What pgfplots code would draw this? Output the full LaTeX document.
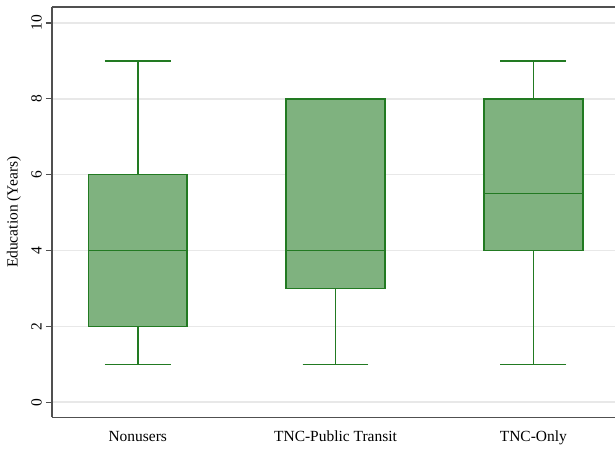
\documentclass[border=0pt]{standalone}
\usepackage{pgfplots}
\pgfplotsset{compat=1.18}
\usepgfplotslibrary{statistics}
\usepackage{fontspec}
\setmainfont{Liberation Serif}
\definecolor{boxfill}{RGB}{127,178,127}
\definecolor{boxline}{RGB}{34,122,34}
\definecolor{axgray}{RGB}{80,80,80}
\definecolor{gridgray}{RGB}{232,232,232}
\begin{document}
\begin{tikzpicture}
\begin{axis}[
  scale only axis,
  width=564pt, height=411pt,
  xmin=0.566, xmax=3.414,
  ymin=-0.4, ymax=10.42,
  axis x line*=box,
  axis y line*=left,
  axis line style={axgray, line width=1.6pt},
  xtick={1,2,3},
  xticklabels={Nonusers,TNC-Public Transit,TNC-Only},
  x tick style={draw=none},
  ytick={0,2,4,6,8,10},
  y tick style={axgray, line width=1.2pt},
  tick align=outside,
  major tick length=6pt,
  ymajorgrids,
  grid style={gridgray, line width=1.6pt},
  /pgf/number format/assume math mode=true,
  tick label style={font=\fontsize{15.5}{18}\selectfont},
  yticklabel style={rotate=90, anchor=south, inner sep=4pt},
  xticklabel style={yshift=-4pt},
  ylabel={Education (Years)},
  every axis y label/.style={at={(axis description cs:-0.0674,0.5)}, rotate=90, anchor=center, font=\fontsize{15.5}{18}\selectfont},
  boxplot/draw direction=y,
  boxplot/box extend=0.5,
  boxplot/whisker extend=0.333,
  boxplot/every box/.style={draw=boxline, fill=boxfill, line width=1.5pt},
  boxplot/every whisker/.style={draw=boxline, line width=1.5pt},
  boxplot/every median/.style={draw=boxline, line width=1.5pt},
]
\addplot+[boxplot prepared={lower whisker=1, lower quartile=2, median=4, upper quartile=6, upper whisker=9, draw position=1},
  draw=boxline, fill=boxfill, line width=1.5pt, mark=none, solid] coordinates {};
\addplot+[boxplot prepared={lower whisker=1, lower quartile=3, median=4, upper quartile=8, upper whisker=8, draw position=2},
  draw=boxline, fill=boxfill, line width=1.5pt, mark=none, solid] coordinates {};
\addplot+[boxplot prepared={lower whisker=1, lower quartile=4, median=5.5, upper quartile=8, upper whisker=9, draw position=3},
  draw=boxline, fill=boxfill, line width=1.5pt, mark=none, solid] coordinates {};
\end{axis}
\path (current axis.south west) ++(-52pt,-31pt) rectangle ++(616pt,449pt);
\end{tikzpicture}
\end{document}
